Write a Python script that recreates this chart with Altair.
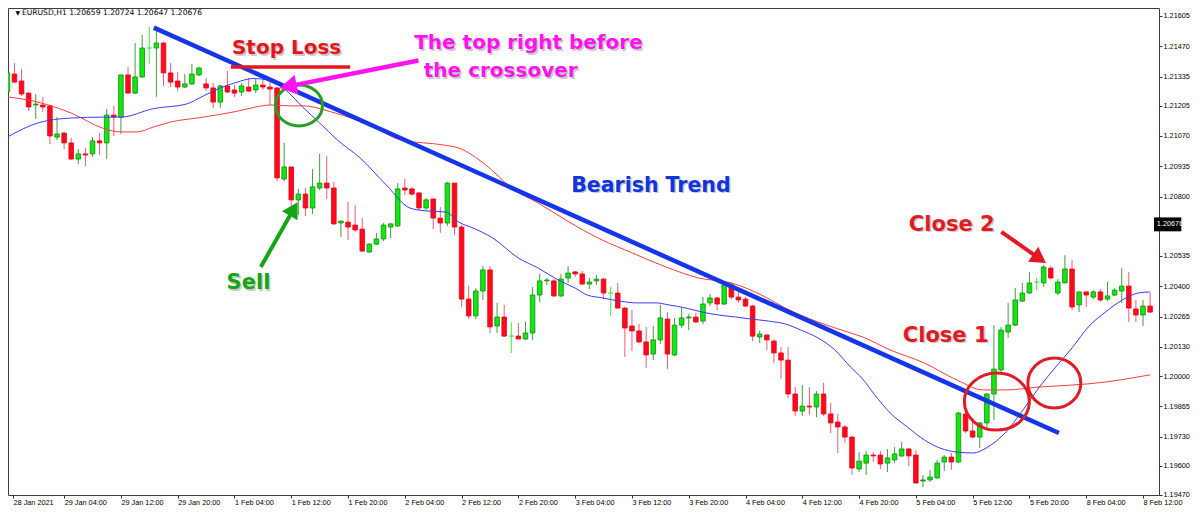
import altair as alt
import pandas as pd

# ---------------- data (EURUSD H1, bar 0 = 28 Jan 2021 20:00) ----------------
opens = [1.21266, 1.21346, 1.21315, 1.21261, 1.21208, 1.21208, 1.21204, 1.21065, 1.21083, 1.21039,
         1.20967, 1.20990, 1.20990, 1.21048, 1.21039, 1.21163, 1.21154, 1.21342, 1.21261, 1.21333,
         1.21462, 1.21462, 1.21484, 1.21351, 1.21315, 1.21288, 1.21302, 1.21342, 1.21302, 1.21284,
         1.21221, 1.21293, 1.21275, 1.21266, 1.21288, 1.21275, 1.21297, 1.21288, 1.21284, 1.20878,
         1.20932, 1.20785, 1.20811, 1.20749, 1.20838, 1.20860, 1.20838, 1.20682, 1.20686, 1.20673,
         1.20655, 1.20553, 1.20588, 1.20611, 1.20664, 1.20669, 1.20838, 1.20834, 1.20816, 1.20749,
         1.20789, 1.20704, 1.20682, 1.20860, 1.20664, 1.20343, 1.20268, 1.20379, 1.20473, 1.20223,
         1.20263, 1.20178, 1.20178, 1.20165, 1.20192, 1.20361, 1.20424, 1.20424, 1.20357, 1.20437,
         1.20464, 1.20455, 1.20410, 1.20424, 1.20432, 1.20370, 1.20370, 1.20303, 1.20223, 1.20201,
         1.20152, 1.20098, 1.20161, 1.20254, 1.20094, 1.20227, 1.20259, 1.20263, 1.20245, 1.20326,
         1.20348, 1.20321, 1.20406, 1.20352, 1.20343, 1.20312, 1.20174, 1.20183, 1.20156, 1.20103,
         1.20071, 1.19920, 1.19844, 1.19866, 1.19862, 1.19920, 1.19831, 1.19795, 1.19773, 1.19728,
         1.19586, 1.19612, 1.19648, 1.19648, 1.19612, 1.19626, 1.19644, 1.19675, 1.19648, 1.19532,
         1.19537, 1.19546, 1.19617, 1.19639, 1.19617, 1.19831, 1.19755, 1.19728, 1.19791, 1.19920,
         1.20027, 1.20196, 1.20227, 1.20334, 1.20370, 1.20419, 1.20415, 1.20481, 1.20370, 1.20415,
         1.20477, 1.20317, 1.20375, 1.20352, 1.20375, 1.20343, 1.20361, 1.20379, 1.20401, 1.20299,
         1.20272, 1.20312]
highs = [1.21373, 1.21395, 1.21368, 1.21266, 1.21257, 1.21244, 1.21208, 1.21154, 1.21088, 1.21061,
         1.21012, 1.21016, 1.21065, 1.21083, 1.21190, 1.21204, 1.21342, 1.21377, 1.21484, 1.21520,
         1.21556, 1.21556, 1.21489, 1.21395, 1.21355, 1.21346, 1.21391, 1.21377, 1.21328, 1.21306,
         1.21297, 1.21360, 1.21297, 1.21306, 1.21328, 1.21324, 1.21324, 1.21310, 1.21288, 1.21039,
         1.20932, 1.20834, 1.20838, 1.20923, 1.20990, 1.20981, 1.20865, 1.20691, 1.20776, 1.20762,
         1.20704, 1.20593, 1.20638, 1.20682, 1.20682, 1.20860, 1.20878, 1.20843, 1.20820, 1.20793,
         1.20793, 1.20753, 1.20865, 1.20860, 1.20673, 1.20401, 1.20392, 1.20490, 1.20490, 1.20326,
         1.20317, 1.20241, 1.20236, 1.20241, 1.20397, 1.20455, 1.20437, 1.20432, 1.20455, 1.20490,
         1.20468, 1.20468, 1.20437, 1.20450, 1.20437, 1.20397, 1.20415, 1.20308, 1.20294, 1.20232,
         1.20219, 1.20223, 1.20317, 1.20285, 1.20259, 1.20303, 1.20277, 1.20281, 1.20352, 1.20366,
         1.20352, 1.20415, 1.20419, 1.20388, 1.20352, 1.20317, 1.20201, 1.20187, 1.20165, 1.20129,
         1.20129, 1.19951, 1.19960, 1.19951, 1.19933, 1.19969, 1.19880, 1.19831, 1.19782, 1.19733,
         1.19661, 1.19666, 1.19661, 1.19666, 1.19675, 1.19684, 1.19706, 1.19679, 1.19670, 1.19559,
         1.19581, 1.19626, 1.19648, 1.19657, 1.19840, 1.19835, 1.19813, 1.19795, 1.19924, 1.20227,
         1.20219, 1.20326, 1.20392, 1.20415, 1.20464, 1.20437, 1.20495, 1.20490, 1.20432, 1.20539,
         1.20517, 1.20375, 1.20375, 1.20383, 1.20388, 1.20419, 1.20392, 1.20481, 1.20464, 1.20339,
         1.20339, 1.20370]
lows = [1.21244, 1.21306, 1.21248, 1.21181, 1.21146, 1.21177, 1.21034, 1.21052, 1.21012, 1.20963,
        1.20945, 1.20936, 1.20976, 1.20985, 1.20967, 1.21070, 1.21079, 1.21261, 1.21257, 1.21328,
        1.21391, 1.21244, 1.21293, 1.21288, 1.21270, 1.21284, 1.21297, 1.21337, 1.21270, 1.21195,
        1.21195, 1.21261, 1.21244, 1.21248, 1.21266, 1.21261, 1.21275, 1.21208, 1.20869, 1.20869,
        1.20758, 1.20718, 1.20713, 1.20722, 1.20829, 1.20789, 1.20673, 1.20620, 1.20606, 1.20642,
        1.20553, 1.20548, 1.20584, 1.20602, 1.20615, 1.20664, 1.20807, 1.20802, 1.20740, 1.20740,
        1.20655, 1.20638, 1.20669, 1.20629, 1.20308, 1.20254, 1.20254, 1.20339, 1.20192, 1.20192,
        1.20174, 1.20103, 1.20165, 1.20161, 1.20161, 1.20330, 1.20406, 1.20352, 1.20352, 1.20415,
        1.20441, 1.20406, 1.20388, 1.20406, 1.20343, 1.20268, 1.20299, 1.20085, 1.20112, 1.20147,
        1.20036, 1.20071, 1.20143, 1.20031, 1.20089, 1.20214, 1.20205, 1.20236, 1.20232, 1.20312,
        1.20294, 1.20317, 1.20343, 1.20326, 1.20308, 1.20156, 1.20147, 1.20116, 1.20058, 1.19987,
        1.19902, 1.19822, 1.19822, 1.19826, 1.19817, 1.19822, 1.19746, 1.19657, 1.19702, 1.19559,
        1.19572, 1.19559, 1.19617, 1.19586, 1.19572, 1.19612, 1.19639, 1.19599, 1.19523, 1.19505,
        1.19528, 1.19541, 1.19577, 1.19581, 1.19612, 1.19746, 1.19724, 1.19679, 1.19773, 1.19804,
        1.20014, 1.20170, 1.20223, 1.20330, 1.20366, 1.20383, 1.20397, 1.20432, 1.20361, 1.20415,
        1.20294, 1.20285, 1.20308, 1.20343, 1.20330, 1.20334, 1.20357, 1.20326, 1.20241, 1.20241,
        1.20223, 1.20281]
closes = [1.21351, 1.21310, 1.21257, 1.21199, 1.21212, 1.21199, 1.21070, 1.21079, 1.21039, 1.20967,
          1.20990, 1.20985, 1.21048, 1.21039, 1.21163, 1.21154, 1.21342, 1.21261, 1.21333, 1.21462,
          1.21462, 1.21484, 1.21351, 1.21310, 1.21288, 1.21302, 1.21346, 1.21373, 1.21284, 1.21221,
          1.21293, 1.21266, 1.21261, 1.21293, 1.21270, 1.21297, 1.21288, 1.21279, 1.20883, 1.20932,
          1.20785, 1.20811, 1.20749, 1.20843, 1.20860, 1.20838, 1.20678, 1.20691, 1.20664, 1.20651,
          1.20557, 1.20588, 1.20611, 1.20673, 1.20678, 1.20834, 1.20829, 1.20811, 1.20749, 1.20785,
          1.20704, 1.20682, 1.20860, 1.20664, 1.20343, 1.20268, 1.20379, 1.20473, 1.20219, 1.20263,
          1.20178, 1.20178, 1.20165, 1.20192, 1.20361, 1.20424, 1.20428, 1.20357, 1.20432, 1.20459,
          1.20455, 1.20410, 1.20419, 1.20432, 1.20370, 1.20370, 1.20303, 1.20214, 1.20201, 1.20152,
          1.20094, 1.20161, 1.20259, 1.20098, 1.20227, 1.20259, 1.20263, 1.20241, 1.20321, 1.20348,
          1.20321, 1.20406, 1.20352, 1.20339, 1.20312, 1.20178, 1.20187, 1.20161, 1.20103, 1.20071,
          1.19920, 1.19844, 1.19866, 1.19862, 1.19920, 1.19831, 1.19791, 1.19773, 1.19728, 1.19590,
          1.19621, 1.19648, 1.19644, 1.19608, 1.19635, 1.19653, 1.19675, 1.19644, 1.19523, 1.19537,
          1.19550, 1.19612, 1.19639, 1.19617, 1.19835, 1.19755, 1.19728, 1.19791, 1.19920, 1.20031,
          1.20205, 1.20227, 1.20339, 1.20370, 1.20415, 1.20419, 1.20486, 1.20437, 1.20419, 1.20477,
          1.20308, 1.20375, 1.20361, 1.20375, 1.20339, 1.20357, 1.20383, 1.20401, 1.20303, 1.20272,
          1.20312, 1.20285]

# fast moving average (blue), read at these bar positions
ma_fast_bar = [0, 4.3, 9.0, 13.6, 16.0, 20.6, 25.2, 27.6, 30.0, 32.2, 34.6, 37.0, 39.2, 41.6, 44.0,
               46.5, 49.7, 53.4, 56.7, 59.0, 61.8, 63.6, 65.6, 68.4, 72.0, 74.8, 77.6, 80.0, 81.7, 83.9,
               86.3, 88.6, 91.4, 93.2, 95.6, 97.9, 100.2, 102.6, 104.8, 107.2, 109.6, 111.8, 114.2,
               116.6, 118.8, 120.5, 122.2, 124.4, 126.8, 129.2, 131.4, 133.8, 136.1, 137.9, 140.7,
               143.1, 145.4, 147.7, 150.1, 152.3, 154.7, 157.1, 159.3, 161.0]
ma_fast_val = [1.21065, 1.21128, 1.21150, 1.21154, 1.21154, 1.21192, 1.21212, 1.21248, 1.21284, 1.21308,
               1.21326, 1.21317, 1.21275, 1.21199, 1.21128, 1.21052, 1.20972, 1.20851, 1.20749, 1.20736,
               1.20731, 1.20686, 1.20660, 1.20615, 1.20526, 1.20481, 1.20428, 1.20392, 1.20361, 1.20348,
               1.20334, 1.20326, 1.20326, 1.20317, 1.20303, 1.20285, 1.20272, 1.20263, 1.20254, 1.20245,
               1.20232, 1.20205, 1.20170, 1.20116, 1.20040, 1.19987, 1.19916, 1.19835, 1.19773, 1.19715,
               1.19679, 1.19661, 1.19657, 1.19679, 1.19751, 1.19849, 1.19951, 1.20040, 1.20129, 1.20219,
               1.20285, 1.20339, 1.20370, 1.20375]
# slow moving average (red)
ma_slow_bar = [0, 4.3, 9.0, 13.6, 16.0, 18.3, 20.6, 23.0, 27.6, 32.2, 35.0, 37.0, 40.2, 41.6, 46.2,
               51.0, 55.5, 61.4, 63.6, 67.4, 71.2, 74.8, 78.9, 83.5, 88.1, 92.8, 97.4, 102.0, 106.8,
               109.6, 114.2, 118.8, 120.5, 124.4, 129.2, 133.8, 137.5, 140.7, 145.4, 150.1, 154.7,
               159.3, 161.0]
ma_slow_val = [1.21244, 1.21221, 1.21172, 1.21103, 1.21088, 1.21088, 1.21110, 1.21132, 1.21154, 1.21179,
               1.21199, 1.21208, 1.21204, 1.21204, 1.21172, 1.21119, 1.21052, 1.21030, 1.21016, 1.20941,
               1.20834, 1.20771, 1.20691, 1.20611, 1.20548, 1.20486, 1.20437, 1.20415, 1.20352, 1.20303,
               1.20241, 1.20192, 1.20174, 1.20116, 1.20058, 1.19982, 1.19938, 1.19938, 1.19951, 1.19960,
               1.19973, 1.19996, 1.20005]

tick_bars = list(range(0, 161, 8))
tick_labels = ["28 Jan 2021", "29 Jan 04:00", "29 Jan 12:00", "29 Jan 20:00", "1 Feb 04:00",
               "1 Feb 12:00", "1 Feb 20:00", "2 Feb 04:00", "2 Feb 12:00", "2 Feb 20:00",
               "3 Feb 04:00", "3 Feb 12:00", "3 Feb 20:00", "4 Feb 04:00", "4 Feb 12:00",
               "4 Feb 20:00", "5 Feb 04:00", "5 Feb 12:00", "5 Feb 20:00", "8 Feb 04:00", "8 Feb 12:00"]
price_ticks = [1.21605, 1.21470, 1.21335, 1.21205, 1.21070, 1.20935, 1.20800, 1.20535, 1.20400,
               1.20265, 1.20130, 1.20000, 1.19865, 1.19730, 1.19600, 1.19470]
current_price = 1.20676
title_text = "EURUSD,H1  1.20659 1.20724 1.20647 1.20676"

# annotations (bar position, price)
trend_bar = [20.63, 148.15]
trend_price = [1.21553, 1.19746]
stop_bar = [31.5, 48.3]
stop_price = 1.21377

ann_text = ["Stop Loss", "The top right before", "the crossover", "Bearish Trend", "Sell", "Close 1", "Close 2"]
ann_bar = [39.34, 73.42, 69.51, 90.67, 33.97, 132.2, 133.05]
ann_price = [1.21435, 1.21456, 1.21331, 1.20822, 1.20387, 1.20153, 1.20648]
ann_color = ["#e8141c", "#ff14f0", "#ff14f0", "#1234dc", "#14a514", "#e21a22", "#e21a22"]
ann_size = [20, 20, 20, 20.5, 21, 21, 21]

arrow_from_bar = [57.92, 35.71, 140.04]
arrow_from_price = [1.21406, 1.20486, 1.20643]
arrow_head_bar = [39.55, 40.34, 145.43]
arrow_head_price = [1.21291, 1.20745, 1.20523]
arrow_angle = [259, 30, 124.5]
arrow_color = ["#ff14f0", "#14a514", "#e21a22"]
arrow_width = [4.5, 4, 4]
arrow_head_size = [400, 324, 324]

ring_bar = [41.09, 139.41, 147.51]
ring_price = [1.21206, 1.19886, 1.19969]
ring_color = ["#25a025", "#dd1f25", "#dd1f25"]
ring_size = [2209, 4225, 2809]
ring_shape = ["M -1 0 A 1 0.87 0 1 1 1 0 A 1 0.87 0 1 1 -1 0 Z",
              "M -1 0 A 1 0.877 0 1 1 1 0 A 1 0.877 0 1 1 -1 0 Z",
              "M -1 0 A 1 0.943 0 1 1 1 0 A 1 0.943 0 1 1 -1 0 Z"]

# ---------------- scales & axes ----------------
PLOT_W, PLOT_H = 1151, 487
X_DOMAIN = [0.796, 161.55]
Y_DOMAIN = [1.194698, 1.216403]
xs = alt.Scale(domain=X_DOMAIN, nice=False, zero=False)
ys = alt.Scale(domain=Y_DOMAIN, nice=False, zero=False)

n = len(opens)
kind = ["bull" if c > o else ("bear" if c < o else "doji") for o, c in zip(opens, closes)]
candles = pd.DataFrame({"bar": list(range(n)), "open": opens, "high": highs,
                        "low": lows, "close": closes, "kind": kind})
kinds = ["bull", "bear", "doji"]

tick_values = [max(b, X_DOMAIN[0]) for b in tick_bars]
label_expr = "[" + ",".join("'%s'" % t for t in tick_labels) + "][round(datum.value / 8)]"

FONT = "DejaVu Sans"
AXFONT = "Liberation Sans"
x_axis = alt.Axis(values=tick_values, labelExpr=label_expr, orient="bottom", grid=False, domain=False,
                  tickSize=3, tickColor="#333333", labelAlign="left", labelBaseline="top",
                  labelPadding=0, labelFont=AXFONT, labelFontSize=7.3, labelColor="#000000",
                  labelOverlap=False, labelFlush=False, title=None)
y_axis = alt.Axis(values=price_ticks, format=".5f", orient="right", grid=False, domain=False,
                  tickSize=3, tickColor="#333333", labelAlign="left", labelBaseline="middle",
                  labelPadding=1, labelFont=AXFONT, labelFontSize=7.3, labelColor="#000000",
                  labelOverlap=False, labelFlush=False, title=None)


def X(field):
    return alt.X(field, scale=xs, axis=x_axis)


def Y(field):
    return alt.Y(field, scale=ys, axis=y_axis)


base = alt.Chart(candles)
wicks = base.mark_rule(strokeWidth=1, clip=True).encode(
    x=X("bar:Q"), y=Y("low:Q"), y2="high:Q",
    color=alt.Color("kind:N", scale=alt.Scale(domain=kinds, range=["#3f9f3f", "#ef5a74", "#3cf03c"]),
                    legend=None))
bodies = base.mark_bar(size=4.6, strokeWidth=0.8, clip=True).encode(
    x=X("bar:Q"), y=Y("open:Q"), y2="close:Q",
    fill=alt.Fill("kind:N", scale=alt.Scale(domain=kinds, range=["#10e810", "#ff0a1a", "#3cf03c"]),
                  legend=None),
    stroke=alt.Stroke("kind:N", scale=alt.Scale(domain=kinds, range=["#128a12", "#e8001a", "#3cf03c"]),
                      legend=None))

fast = alt.Chart(pd.DataFrame({"bar": ma_fast_bar, "price": ma_fast_val})).mark_line(
    color="#3b3bff", strokeWidth=1, interpolate="monotone", clip=True).encode(x=X("bar:Q"), y=Y("price:Q"))
slow = alt.Chart(pd.DataFrame({"bar": ma_slow_bar, "price": ma_slow_val})).mark_line(
    color="#ff3b3b", strokeWidth=1, interpolate="monotone", clip=True).encode(x=X("bar:Q"), y=Y("price:Q"))

trend = alt.Chart(pd.DataFrame({"x": [trend_bar[0]], "x2": [trend_bar[1]],
                                "y": [trend_price[0]], "y2": [trend_price[1]]})).mark_rule(
    color="#1436e6", strokeWidth=4.5).encode(x=X("x:Q"), x2="x2:Q", y=Y("y:Q"), y2="y2:Q")

stop = alt.Chart(pd.DataFrame({"x": [stop_bar[0]], "x2": [stop_bar[1]], "y": [stop_price]})).mark_rule(
    color="#e8141c", strokeWidth=3.5).encode(x=X("x:Q"), x2="x2:Q", y=Y("y:Q"))

arrows_df = pd.DataFrame({"x": arrow_from_bar, "y": arrow_from_price, "x2": arrow_head_bar,
                          "y2": arrow_head_price, "col": arrow_color, "w": arrow_width,
                          "ang": arrow_angle, "sz": arrow_head_size})
shafts = alt.Chart(arrows_df).mark_rule().encode(
    x=X("x:Q"), x2="x2:Q", y=Y("y:Q"), y2="y2:Q",
    color=alt.Color("col:N", scale=None), strokeWidth=alt.StrokeWidth("w:Q", scale=None))
heads = alt.Chart(arrows_df).mark_point(shape="triangle-up", filled=True, opacity=1).encode(
    x=X("x2:Q"), y=Y("y2:Q"), color=alt.Color("col:N", scale=None),
    angle=alt.Angle("ang:Q", scale=None), size=alt.Size("sz:Q", scale=None))

rings = alt.Chart(pd.DataFrame({"x": ring_bar, "y": ring_price, "col": ring_color,
                                "sz": ring_size, "shp": ring_shape})).mark_point(
    filled=False, strokeWidth=3, opacity=1).encode(
    x=X("x:Q"), y=Y("y:Q"), color=alt.Color("col:N", scale=None),
    size=alt.Size("sz:Q", scale=None), shape=alt.Shape("shp:N", scale=None))

ann_df = pd.DataFrame({"x": ann_bar, "y": ann_price, "t": ann_text, "col": ann_color, "fs": ann_size})
ann_shadow = alt.Chart(ann_df).mark_text(font=FONT, fontWeight="bold", align="center",
                                         baseline="alphabetic", dx=1.5, dy=1.5, color="#a8a8a8",
                                         opacity=0.6).encode(
    x=X("x:Q"), y=Y("y:Q"), text="t:N", size=alt.Size("fs:Q", scale=None))
ann = alt.Chart(ann_df).mark_text(font=FONT, fontWeight="bold", align="center",
                                  baseline="alphabetic").encode(
    x=X("x:Q"), y=Y("y:Q"), text="t:N", color=alt.Color("col:N", scale=None),
    size=alt.Size("fs:Q", scale=None))

title_df = pd.DataFrame({"x": [1.15, 2.05], "y": [1.21618, 1.21618], "t": ["\u25bc", title_text],
                         "fs": [6, 7.6]})
title = alt.Chart(title_df).mark_text(font=FONT, align="left", baseline="middle", color="#000000").encode(
    x=X("x:Q"), y=Y("y:Q"), text="t:N", size=alt.Size("fs:Q", scale=None))

box = alt.Chart(pd.DataFrame({"x": [X_DOMAIN[1]], "x2": [165.4], "y": [current_price - 0.00031],
                              "y2": [current_price + 0.00031]})).mark_rect(color="#000000", clip=False).encode(
    x=X("x:Q"), x2="x2:Q", y=Y("y:Q"), y2="y2:Q")
box_text = alt.Chart(pd.DataFrame({"x": [161.95], "y": [current_price], "t": ["%.5f" % current_price]})).mark_text(
    font=AXFONT, fontSize=7.3, align="left", baseline="middle", color="#ffffff").encode(
    x=X("x:Q"), y=Y("y:Q"), text="t:N")

chart = alt.layer(
    wicks, bodies, slow, fast, trend, stop, rings, shafts, heads, ann_shadow, ann, title, box, box_text
).resolve_scale(color="independent", fill="independent", stroke="independent").properties(
    width=PLOT_W, height=PLOT_H, padding=0, background="white"
).configure_view(stroke="#3d3d3d", strokeWidth=1)

chart.save("out.html", embed_options={"renderer": "svg", "actions": False})
